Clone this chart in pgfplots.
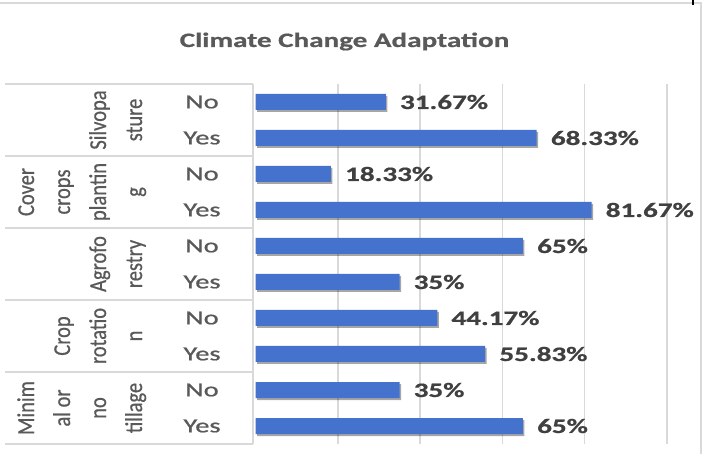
\documentclass[border=0pt]{standalone}
\usepackage{pgfplots}
\pgfplotsset{compat=1.18}
\usepackage{graphicx}
\usepackage{fontspec}
\setmainfont{Carlito}
\newfontfamily\regfont{Carlito}[FakeBold=0.7]
\newfontfamily\boldfont{Carlito}[UprightFont=* Bold, FakeBold=0.6]
\usetikzlibrary{shadows}
\definecolor{barblue}{RGB}{68,114,204}
\definecolor{gridgray}{RGB}{217,217,217}
\definecolor{txtgray}{RGB}{89,89,89}
\definecolor{lblgray}{RGB}{64,64,64}
\newcommand{\sx}[1]{\scalebox{1.42}[1]{#1}}
\newcommand{\rl}[3]{\node[rotate=90,anchor=base,text=txtgray,font=\regfont\fontsize{20.5}{24}\selectfont,inner sep=0pt] at (#1pt,#2pt) {\scalebox{1}[1.18]{#3}};}
\begin{document}
\begin{tikzpicture}
\useasboundingbox (0pt,0pt) rectangle (704pt,454pt);
\fill[white] (0pt,0pt) rectangle (704pt,454pt);
% chart border
\draw[gridgray,line width=2pt] (0pt,451pt) -- (701pt,451pt) -- (701pt,0pt);
\draw[black,line width=1.5pt] (693pt,454pt) -- (693pt,449pt);
% title
\node[anchor=base,text=txtgray,font=\boldfont\fontsize{20.5}{24}\selectfont,inner sep=0pt] at (344.5pt,407pt) {\sx{Climate Change Adaptation}};
% category table lines
\foreach \yy in {370,298,226,154,82,10} {\draw[gridgray,line width=1.5pt] (5pt,\yy pt) -- (253pt,\yy pt);}
\draw[gridgray,line width=1.5pt] (253pt,10pt) -- (253pt,370pt);
% group labels
\rl{106}{334}{Silvopa}\rl{142}{334}{sture}
\rl{34}{262}{Cover}\rl{70}{262}{crops}\rl{106}{262}{plantin}\rl{142}{262}{g}
\rl{106}{190}{Agrofo}\rl{142}{190}{restry}
\rl{70}{118}{Crop}\rl{106}{118}{rotatio}\rl{142}{118}{n}
\rl{34}{46}{Minim}\rl{70}{46}{al or}\rl{106}{46}{no}\rl{142}{46}{tillage}
\begin{axis}[
  at={(255.5pt,10pt)}, anchor=south west,
  scale only axis, width=411.5pt, height=360pt,
  xbar, bar width=16pt,
  xmin=0, xmax=100, ymin=-0.5, ymax=9.5, y dir=reverse,
  axis line style={draw=none},
  major tick length=0pt,
  xtick={20,40,60,80,100}, xticklabels={},
  xmajorgrids, grid style={gridgray, line width=1.5pt},
  ytick={0,...,9},
  yticklabels={\sx{No},\sx{Yes},\sx{No},\sx{Yes},\sx{No},\sx{Yes},\sx{No},\sx{Yes},\sx{No},\sx{Yes}},
  yticklabel style={anchor=center, xshift=-53.5pt, text=txtgray, font=\regfont\fontsize{20}{24}\selectfont},
  clip=false,
  point meta=explicit symbolic,
  nodes near coords={\sx{\pgfplotspointmeta\%}},
  every node near coord/.append style={anchor=west, inner sep=0pt, xshift=14pt, text=lblgray, font=\boldfont\fontsize{20.5}{24}\selectfont},
]
\addplot[fill=barblue, draw=none, drop shadow={shadow xshift=1.5pt, shadow yshift=-2pt, fill=black, opacity=0.35}] table[x=v, y=i, meta=lab] {
v i lab
31.67 0 31.67
68.33 1 68.33
18.33 2 18.33
81.67 3 81.67
65 4 65
35 5 35
44.17 6 44.17
55.83 7 55.83
35 8 35
65 9 65
};
\end{axis}
\end{tikzpicture}
\end{document}
